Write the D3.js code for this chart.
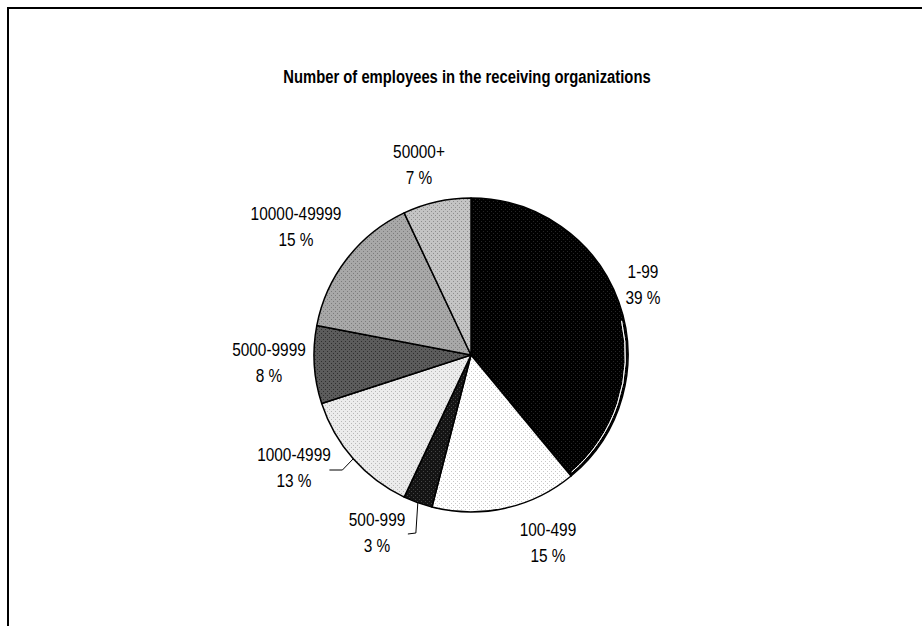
<!DOCTYPE html>
<html>
<head>
<meta charset="utf-8">
<script src="https://cdn.jsdelivr.net/npm/d3@7/dist/d3.min.js"></script>
<style>
  html, body { margin: 0; padding: 0; background: #fff; }
  svg { display: block; font-family: "Liberation Sans", Arial, sans-serif; }
</style>
</head>
<body>
<svg id="chart" width="922" height="626"></svg>
<script>
// Size classes of the receiving organizations and their shares (%)
const categories = ["1-99", "100-499", "500-999", "1000-4999", "5000-9999", "10000-49999", "50000+"];
const shares = [39, 15, 3, 13, 8, 15, 7];
const valueLabels = ["39 %", "15 %", "3 %", "13 %", "8 %", "15 %", "7 %"];

// Dotted pattern fills per slice: base tone + dot tone
const baseTones = ["#000000", "#ffffff", "#141414", "#ececec", "#5c5c5c", "#a8a8a8", "#c4c4c4"];
const dotTones  = ["#262626", "#c8c8c8", "#444444", "#b8b8b8", "#2e2e2e", "#7c7c7c", "#8e8e8e"];

// Label block centres relative to the pie centre
const labelOffsets = [[172, -70], [77, 188], [-94, 178], [-177, 113], [-202, 8], [-175, -128], [-52, -190]];
// Slices whose labels get a leader line
const leaderSlices = {2: "down", 3: "left"};

const svg = d3.select("#chart");
const W = 922, H = 626;
const cx = 471, cy = 355, R = 157;
const fontSize = 17.5, lineGap = 26;
const condense = 0.88; // narrow glyph width of the chart font

// Squeeze a text element horizontally while keeping its height
function narrow(sel, k) {
  sel.each(function() {
    const len = this.getComputedTextLength();
    d3.select(this).attr("textLength", len * k).attr("lengthAdjust", "spacingAndGlyphs");
  });
}

svg.append("rect").attr("width", W).attr("height", H).attr("fill", "#fff");

// Chart frame (top and left edges)
svg.append("path")
  .attr("d", `M8,${H} L8,8 L${W},8`)
  .attr("fill", "none").attr("stroke", "#000").attr("stroke-width", 2);

// Title
svg.append("text")
  .attr("x", 467).attr("y", 77)
  .attr("text-anchor", "middle").attr("dominant-baseline", "central")
  .attr("font-size", fontSize).attr("font-weight", "bold").attr("fill", "#000")
  .text("Number of employees in the receiving organizations")
  .call(narrow, 0.845);

// Patterns
const defs = svg.append("defs");
categories.forEach((c, i) => {
  const p = defs.append("pattern")
    .attr("id", "pat" + i).attr("patternUnits", "userSpaceOnUse")
    .attr("width", 4).attr("height", 4);
  p.append("rect").attr("width", 4).attr("height", 4).attr("fill", baseTones[i]);
  p.append("rect").attr("x", 0).attr("y", 0).attr("width", 1).attr("height", 1).attr("fill", dotTones[i]);
  p.append("rect").attr("x", 2).attr("y", 2).attr("width", 1).attr("height", 1).attr("fill", dotTones[i]);
});

const pie = d3.pie().sort(null).value(d => d).startAngle(0).endAngle(2 * Math.PI);
const arcs = pie(shares);
const arc = d3.arc().innerRadius(0).outerRadius(R);

const g = svg.append("g").attr("transform", `translate(${cx},${cy})`);

g.selectAll("path.slice")
  .data(arcs)
  .join("path")
  .attr("class", "slice")
  .attr("d", arc)
  .attr("fill", (d, i) => `url(#pat${i})`)
  .attr("stroke", "#000")
  .attr("stroke-width", 1.5)
  .attr("stroke-linejoin", "round");

// Light inner rim along the lower part of the largest slice
const big = arcs[0];
g.append("path")
  .attr("d", d3.arc().innerRadius(R - 2.6).outerRadius(R - 2.6)
    .startAngle(big.startAngle + (big.endAngle - big.startAngle) * 0.55)
    .endAngle(big.endAngle - 0.02)())
  .attr("fill", "none").attr("stroke", "#fff").attr("stroke-width", 0.9);

// Labels: category on the first line, share on the second
const labels = g.selectAll("g.lbl")
  .data(arcs)
  .join("g")
  .attr("class", "lbl");

const labelRight = [];
labels.each(function(d, i) {
  const [ox, oy] = labelOffsets[i];
  const lg = d3.select(this);
  [categories[i], valueLabels[i]].forEach((s, j) => {
    const t = lg.append("text")
      .attr("x", ox).attr("y", oy + (j === 0 ? -lineGap / 2 : lineGap / 2))
      .attr("text-anchor", "middle").attr("dominant-baseline", "central")
      .attr("font-size", fontSize).attr("fill", "#000")
      .text(s)
      .call(narrow, condense);
    if (j === 0) labelRight[i] = ox + t.node().getComputedTextLength() * condense / 2;
  });
});

// Leader lines from the slice edge to the label block
Object.keys(leaderSlices).forEach(k => {
  const i = +k;
  const d = arcs[i];
  const mid = (d.startAngle + d.endAngle) / 2;
  const ex = R * Math.sin(mid), ey = -R * Math.cos(mid);
  const oy = labelOffsets[i][1];
  const rx = labelRight[i];
  let pts;
  if (leaderSlices[k] === "down") {
    // drops down beside the label block then turns left
    pts = [[ex, ey], [rx + 14, oy], [rx + 6, oy + 1]];
  } else {
    // short bend then runs left to the label block
    pts = [[ex, ey], [rx + 16, oy + 2], [rx + 3, oy + 2]];
  }
  g.append("path")
    .attr("d", d3.line()(pts))
    .attr("fill", "none").attr("stroke", "#000").attr("stroke-width", 1);
});
</script>
</body>
</html>
